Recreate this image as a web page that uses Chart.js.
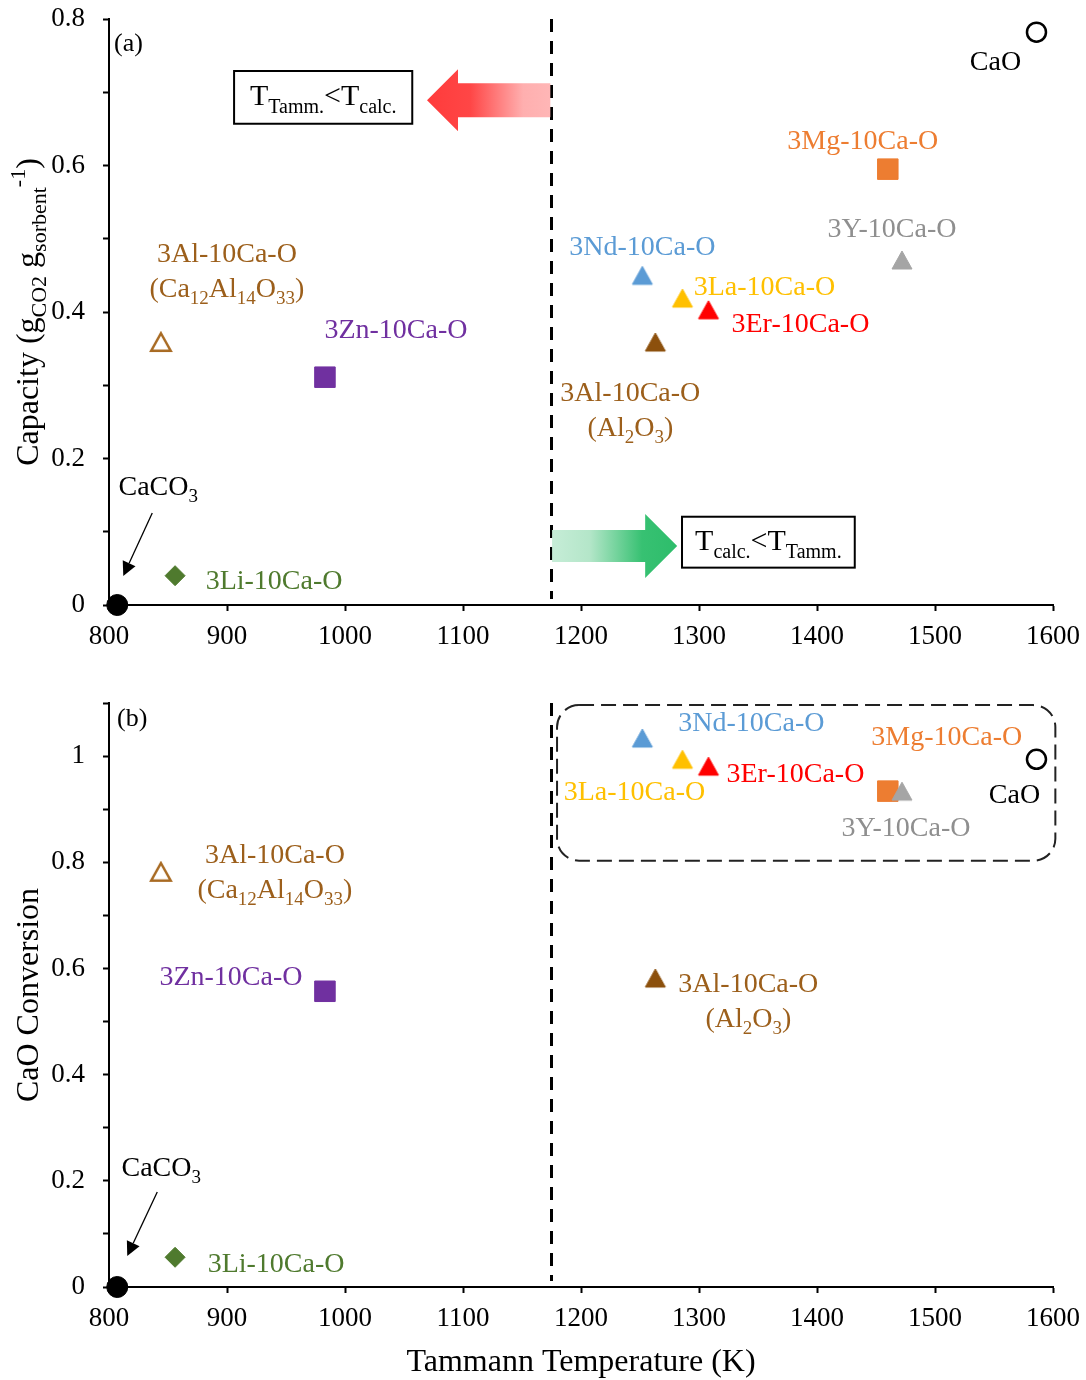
<!DOCTYPE html>
<html>
<head>
<meta charset="utf-8">
<title>Tammann temperature vs capacity and conversion</title>
<script src="https://cdn.jsdelivr.net/npm/chart.js@4.4.1/dist/chart.umd.min.js"></script>
<style>
  body { margin: 0; background: #fff; }
  canvas { position: absolute; left: 0; }
  #capChart { top: 0; }
  #convChart { top: 670px; }
</style>
</head>
<body>
<canvas id="capChart" width="1086" height="660"></canvas>
<canvas id="convChart" width="1086" height="710"></canvas>
<script>
// ---- data ----
const samples = ['CaCO3', '3Li-10Ca-O', '3Al-10Ca-O (Ca12Al14O33)', '3Zn-10Ca-O', '3Nd-10Ca-O',
  '3La-10Ca-O', '3Al-10Ca-O (Al2O3)', '3Er-10Ca-O', '3Mg-10Ca-O', '3Y-10Ca-O', 'CaO'];
const sampleText = ['CaCO_{3}', '3Li-10Ca-O', '3Al-10Ca-O|(Ca_{12}Al_{14}O_{33})', '3Zn-10Ca-O', '3Nd-10Ca-O',
  '3La-10Ca-O', '3Al-10Ca-O|(Al_{2}O_{3})', '3Er-10Ca-O', '3Mg-10Ca-O', '3Y-10Ca-O', 'CaO'];
const tammannK = [807, 856, 844, 983, 1252, 1286, 1263, 1308, 1460, 1472, 1586];
const capacity = [0, 0.04, 0.359, 0.311, 0.45, 0.419, 0.359, 0.403, 0.595, 0.471, 0.782];
const conversion = [0, 0.056, 0.782, 0.557, 1.034, 0.994, 0.582, 0.981, 0.934, 0.934, 0.994];
const calcTemp = 1175;

const tempTickLabels = ['800', '900', '1000', '1100', '1200', '1300', '1400', '1500', '1600'];
const capTickLabels = ['0', '0.2', '0.4', '0.6', '0.8'];
const convTickLabels = ['0', '0.2', '0.4', '0.6', '0.8', '1'];

// ---- styles ----
const serif = '"Liberation Serif", "Times New Roman", serif';
const markerFill = ['#000000', '#4f7a2e', '#ffffff', '#7030a0', '#5b9bd5', '#ffc000', '#8c500c', '#ff0000', '#ed7d31', '#a5a5a5', '#ffffff'];
const markerEdge = ['#000000', '#4f7a2e', '#a86a22', '#7030a0', '#5b9bd5', '#ffc000', '#8c500c', '#ff0000', '#ed7d31', '#a5a5a5', '#000000'];
const markerShape = ['circle', 'rectRot', 'triangle', 'rect', 'triangle', 'triangle', 'triangle', 'triangle', 'rect', 'triangle', 'circle'];
const markerSize = [10.5, 10, 10, 14.5, 10, 10, 10, 10, 14.5, 10, 9.5];
const markerLine = [1, 1, 2.5, 1, 1, 1, 1, 1, 1, 1, 2.5];
const labelColor = ['#000000', '#4f7a2e', '#9c5f1b', '#7030a0', '#5b9bd5', '#ffc000', '#9c5f1b', '#ff0000', '#ed7d31', '#8f8f8f', '#000000'];

// label centre offsets (px) from each marker
const capLabelOffsets = [[41, -119], [99, 4], [66, -89], [71, -48], [0, -30], [82, -12], [-25, 50], [92, 13], [-25, -29], [-10, -32], [-41, 29]];
const convLabelOffsets = [[44, -120], [101, 5], [114, -18], [-94, -16], [109, -16], [-48, 31], [93, 5], [87, 7], [59, -55], [4, 36], [-22, 34]];

// triangles drawn as small bitmaps so they sit centred on the value
function triangleMarker(fill, edge, lw) {
  const c = document.createElement('canvas');
  c.width = 24; c.height = 22;
  const g = c.getContext('2d');
  const inset = lw > 1 ? lw / 2 + 1 : 2;
  g.beginPath();
  g.moveTo(12, inset);
  g.lineTo(24 - inset, 22 - inset);
  g.lineTo(inset, 22 - inset);
  g.closePath();
  g.fillStyle = fill;
  g.fill();
  g.lineWidth = lw;
  g.lineJoin = 'miter';
  g.strokeStyle = edge;
  g.stroke();
  return c;
}

function richParts(text) {
  const parts = [];
  const re = /([_^])\{([^}]*)\}|([^_^]+)/g;
  let m;
  while ((m = re.exec(text)) !== null) {
    if (m[3]) parts.push({ t: m[3], kind: 'n' });
    else parts.push({ t: m[2], kind: m[1] === '_' ? 'sub' : 'sup' });
  }
  return parts;
}

// text with sub/superscripts, y = visual middle of capitals
function drawRich(ctx, text, x, y, size, color, align) {
  const parts = richParts(text);
  let total = 0;
  parts.forEach(p => {
    p.size = p.kind === 'n' ? size : Math.round(size * 0.68);
    ctx.font = p.size + 'px ' + serif;
    p.w = ctx.measureText(p.t).width;
    total += p.w;
  });
  let cx = align === 'left' ? x : align === 'right' ? x - total : x - total / 2;
  const base = y + size * 0.33;
  ctx.fillStyle = color;
  ctx.textAlign = 'left';
  ctx.textBaseline = 'alphabetic';
  parts.forEach(p => {
    ctx.font = p.size + 'px ' + serif;
    const dy = p.kind === 'sub' ? size * 0.25 : p.kind === 'sup' ? -size * 0.4 : 0;
    ctx.fillText(p.t, cx, base + dy);
    cx += p.w;
  });
}

function blockArrow(ctx, x0, x1, y, shaftHalf, headHalf, headLen, stops) {
  const dir = Math.sign(x1 - x0);
  const hb = x1 - dir * headLen;
  const grad = ctx.createLinearGradient(x0, 0, x1, 0);
  stops.forEach(s => grad.addColorStop(s[0], s[1]));
  ctx.beginPath();
  ctx.moveTo(x0, y - shaftHalf);
  ctx.lineTo(hb, y - shaftHalf);
  ctx.lineTo(hb, y - headHalf);
  ctx.lineTo(x1, y);
  ctx.lineTo(hb, y + headHalf);
  ctx.lineTo(hb, y + shaftHalf);
  ctx.lineTo(x0, y + shaftHalf);
  ctx.closePath();
  ctx.fillStyle = grad;
  ctx.fill();
}

function lineArrow(ctx, x0, y0, x1, y1) {
  const ang = Math.atan2(y1 - y0, x1 - x0);
  const len = 14, half = 7;
  const bx = x1 - Math.cos(ang) * len, by = y1 - Math.sin(ang) * len;
  ctx.strokeStyle = '#000';
  ctx.lineWidth = 1.3;
  ctx.beginPath();
  ctx.moveTo(x0, y0);
  ctx.lineTo(bx, by);
  ctx.stroke();
  ctx.beginPath();
  ctx.moveTo(x1, y1);
  ctx.lineTo(bx - Math.sin(ang) * half, by + Math.cos(ang) * half);
  ctx.lineTo(bx + Math.sin(ang) * half, by - Math.cos(ang) * half);
  ctx.closePath();
  ctx.fillStyle = '#000';
  ctx.fill();
}

function textBox(ctx, x0, y0, x1, y1, text) {
  ctx.fillStyle = '#fff';
  ctx.fillRect(x0, y0, x1 - x0, y1 - y0);
  ctx.strokeStyle = '#000';
  ctx.lineWidth = 2;
  ctx.strokeRect(x0, y0, x1 - x0, y1 - y0);
  drawRich(ctx, text, (x0 + x1) / 2, (y0 + y1) / 2 - 2, 30, '#000', 'center');
}

function roundedDashRect(ctx, x0, y0, x1, y1, r) {
  ctx.save();
  ctx.setLineDash([15, 7]);
  ctx.lineWidth = 2;
  ctx.strokeStyle = '#222';
  ctx.beginPath();
  ctx.roundRect(x0, y0, x1 - x0, y1 - y0, r);
  ctx.stroke();
  ctx.restore();
}

// annotations: dashed T_calc line, arrows, boxes, sample labels, y title
const figureNotes = {
  id: 'figureNotes',
  beforeDatasetsDraw(chart, args, opts) {
    const { ctx, chartArea, scales: { x, y } } = chart;
    ctx.save();
    const lx = x.getPixelForValue(calcTemp);
    ctx.setLineDash([13, 9]);
    ctx.lineWidth = 3;
    ctx.strokeStyle = '#000';
    ctx.beginPath();
    ctx.moveTo(lx, chartArea.top);
    ctx.lineTo(lx, chartArea.bottom - 6);
    ctx.stroke();
    ctx.setLineDash([]);
    (opts.arrows || []).forEach(a => {
      blockArrow(ctx, x.getPixelForValue(a.from), x.getPixelForValue(a.to), y.getPixelForValue(a.at),
        a.shaft, a.head, a.headLen, a.stops);
    });
    (opts.boxes || []).forEach(b => {
      textBox(ctx, x.getPixelForValue(b.x0), y.getPixelForValue(b.y0),
        x.getPixelForValue(b.x1), y.getPixelForValue(b.y1), b.text);
    });
    if (opts.region) {
      const g = opts.region;
      roundedDashRect(ctx, x.getPixelForValue(g.x0), y.getPixelForValue(g.y0),
        x.getPixelForValue(g.x1), y.getPixelForValue(g.y1), g.r);
    }
    ctx.restore();
  },
  afterDatasetsDraw(chart, args, opts) {
    const { ctx, chartArea } = chart;
    ctx.save();
    opts.offsets.forEach((off, i) => {
      const pt = chart.getDatasetMeta(i).data[0];
      sampleText[i].split('|').forEach((line, k) => {
        drawRich(ctx, line, pt.x + off[0], pt.y + off[1] + k * 35, 28, labelColor[i], 'center');
      });
    });
    const caco3 = chart.getDatasetMeta(0).data[0];
    const a = opts.caco3Arrow;
    lineArrow(ctx, caco3.x + a[0], caco3.y + a[1], caco3.x + a[2], caco3.y + a[3]);
    drawRich(ctx, opts.panel, chartArea.left + opts.panelAt[0], chartArea.top + opts.panelAt[1], 26, '#000', 'left');
    ctx.translate(27, (chartArea.top + chartArea.bottom) / 2 + opts.titleShift);
    ctx.rotate(-Math.PI / 2);
    drawRich(ctx, opts.yTitle, 0, 0, 32, '#000', 'center');
    ctx.restore();
  }
};

const triangleImages = markerShape.map((s, i) => s === 'triangle' ? triangleMarker(markerFill[i], markerEdge[i], markerLine[i]) : null);

function datasetsFor(values) {
  return samples.map((name, i) => ({
    label: name,
    data: [{ x: tammannK[i], y: values[i] }],
    pointStyle: triangleImages[i] || markerShape[i],
    pointRadius: markerSize[i],
    pointBackgroundColor: markerFill[i],
    pointBorderColor: markerEdge[i],
    pointBorderWidth: markerLine[i],
    showLine: false,
    clip: false,
    order: samples.length - i
  }));
}

function axisX(showTitle, height) {
  return {
    type: 'linear', min: 800, max: 1600,
    border: { display: true, color: '#000', width: 2 },
    grid: { drawOnChartArea: false, drawTicks: true, tickLength: 6, tickWidth: 2, tickColor: '#000' },
    ticks: {
      stepSize: 100, autoSkip: false, maxRotation: 0, padding: 10, color: '#000',
      font: { family: serif, size: 27 },
      callback: v => tempTickLabels[Math.round((v - 800) / 100)]
    },
    title: {
      display: showTitle, text: 'Tammann Temperature (K)', color: '#000',
      font: { family: serif, size: 32, lineHeight: 1.1 }, padding: 0
    },
    // the "1600" label may overhang into the right margin
    afterFit: s => { s.height = height; s.paddingLeft = 0; s.paddingRight = 0; }
  };
}

function axisY(max, labels) {
  return {
    type: 'linear', min: 0, max: max,
    border: { display: true, color: '#000', width: 2 },
    grid: { drawOnChartArea: false, drawTicks: true, tickLength: 6, tickWidth: 2, tickColor: '#000' },
    ticks: {
      stepSize: 0.1, autoSkip: false, padding: 18, color: '#000',
      font: { family: serif, size: 27 },
      callback: v => { const k = Math.round(v * 10); return k % 2 ? '' : labels[k / 2]; }
    },
    // fixed axis width; the layout padding alone sets the plot top
    afterFit: s => { s.width = 109; s.paddingTop = 0; s.paddingBottom = 0; }
  };
}

function makeChart(id, values, yMax, yLabels, xHeight, padTop, notes) {
  return new Chart(document.getElementById(id), {
    type: 'scatter',
    data: { datasets: datasetsFor(values) },
    options: {
      responsive: false,
      animation: false,
      events: [],
      layout: { padding: { top: padTop, right: 33, left: 0, bottom: 0 } },
      scales: { x: axisX(xHeight > 60, xHeight), y: axisY(yMax, yLabels) },
      plugins: { legend: { display: false }, tooltip: { enabled: false }, figureNotes: notes }
    },
    plugins: [figureNotes]
  });
}

makeChart('capChart', capacity, 0.8, capTickLabels, 55, 19, {
  offsets: capLabelOffsets,
  caco3Arrow: [35, -92, 6, -29],
  panel: '(a)', panelAt: [5, 23],
  yTitle: 'Capacity (g_{CO2} g_{sorbent}^{-1})', titleShift: 0,
  arrows: [
    { from: 1174, to: 1069.5, at: 0.689, shaft: 17, head: 31, headLen: 31,
      stops: [[0, '#ffb6b6'], [0.22, '#ffafaf'], [0.65, '#ff4646'], [1, '#ff3b3b']] },
    { from: 1175.5, to: 1281.5, at: 0.0805, shaft: 16, head: 32, headLen: 32,
      stops: [[0, '#c6edd7'], [0.3, '#b4e6c9'], [0.72, '#37c172'], [1, '#2ebd6b']] }
  ],
  boxes: [
    { x0: 906, x1: 1057, y0: 0.729, y1: 0.657, text: 'T_{Tamm.}<T_{calc.}' },
    { x0: 1285.6, x1: 1432, y0: 0.1205, y1: 0.051, text: 'T_{calc.}<T_{Tamm.}' }
  ]
});

makeChart('convChart', conversion, 1.1, convTickLabels, 93, 33, {
  offsets: convLabelOffsets,
  caco3Arrow: [40, -95, 10, -31],
  panel: '(b)', panelAt: [8, 14],
  yTitle: 'CaO Conversion', titleShift: 0,
  region: { x0: 1179.7, x1: 1602, y0: 1.096, y1: 0.803, r: 22 }
});
</script>
</body>
</html>
